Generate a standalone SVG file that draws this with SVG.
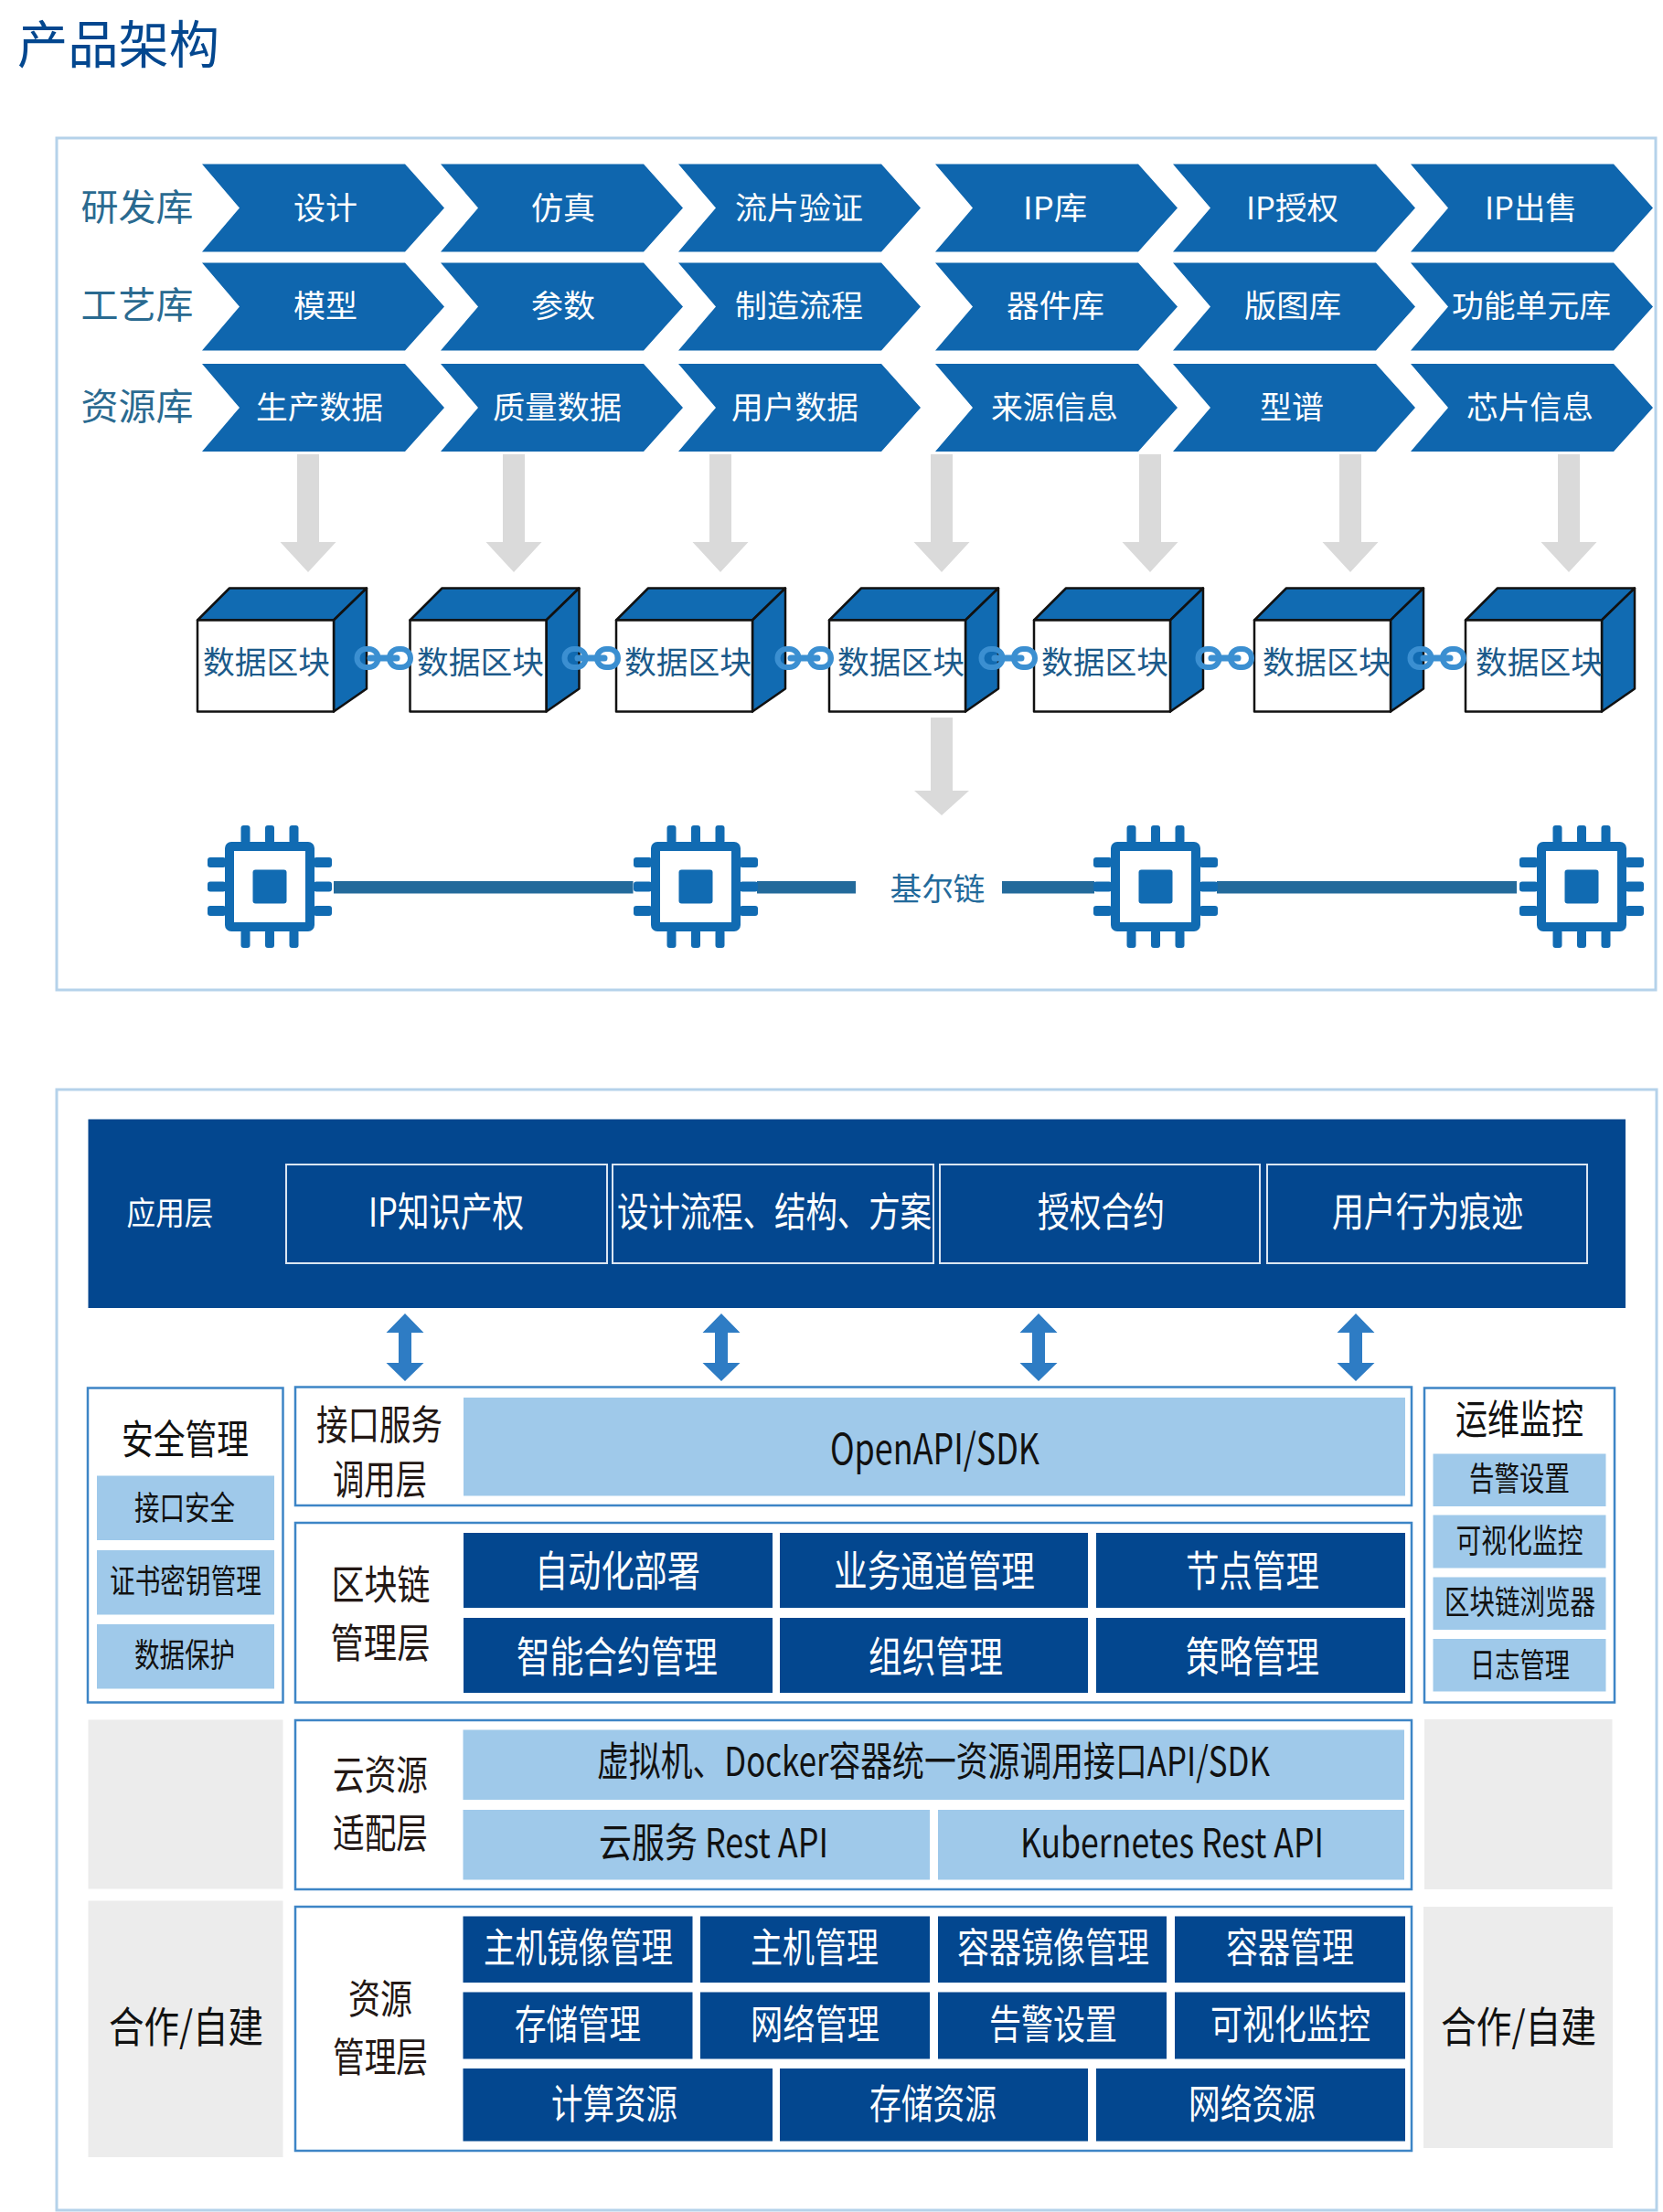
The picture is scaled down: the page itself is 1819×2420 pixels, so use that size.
<svg xmlns="http://www.w3.org/2000/svg" width="1819" height="2420" viewBox="0 0 1819 2420">
<style>
text{font-family:"Noto Sans CJK SC","Noto Sans",sans-serif;font-weight:400}
.w{fill:#fff}.k{fill:#111}.kb{fill:#231815}.d{fill:#03478f}.lb{fill:#9fc9ea}.gy{fill:#ececec}
.fr{fill:#fff;stroke:#3d85c6;stroke-width:2.5}
.ol{fill:none;stroke:#b5d2ea;stroke-width:3}
.bx{fill:none;stroke:#dbe6f2;stroke-width:2}
.t{fill:#2a6a90}.c{fill:#1c5a8a}
.ln{fill:#236a9b}
.s34{font-size:34px}.s36{font-size:36px}.s40{font-size:40px}.s44{font-size:44px}.s46{font-size:46px}.s35{font-size:35px}.s56{font-size:56px}
</style>
<defs>
<path id="chev" d="M0 0H222L265 48L222 96H0L41 48Z" fill="#0f66ae"/>
<path id="gar" d="M-12 -129H12V-33H30.500L0 0L-30.500 -33H-12Z" fill="#dadada"/>
<path id="dar" d="M0 -37L20.500 -16H7V17H20.500L0 37L-20.500 17H-7V-16H-20.500Z" fill="#2e7cc4"/>
<g id="cube" stroke="#111" stroke-width="2.500" stroke-linejoin="round">
<path d="M0 0L35 -35H185L149 0Z" fill="#116bb2"/>
<path d="M149 0L185 -35V75L149 100Z" fill="#116bb2"/>
<rect width="149" height="100" fill="#fff"/>
</g>
<g id="chain" fill="none" stroke="#3b8fd1" stroke-width="6">
<rect x="390.500" y="710" width="23" height="20" rx="10"/>
<rect x="426" y="710" width="23" height="20" rx="10"/>
<path d="M405 720H434" stroke-width="7" stroke-linecap="round"/>
</g>
<g id="chip" fill="#116bb2">
<rect x="-44" y="-44" width="88" height="88" rx="2" fill="none" stroke="#116bb2" stroke-width="10"/>
<rect x="-18.500" y="-18.500" width="37" height="37" rx="3"/>
<rect x="-31.500" y="-67" width="10" height="20" rx="3"/><rect x="-5" y="-67" width="10" height="20" rx="3"/><rect x="21.500" y="-67" width="10" height="20" rx="3"/>
<rect x="-31.500" y="47" width="10" height="20" rx="3"/><rect x="-5" y="47" width="10" height="20" rx="3"/><rect x="21.500" y="47" width="10" height="20" rx="3"/>
<rect x="-68" y="-32" width="20" height="11" rx="3"/><rect x="-68" y="-5.500" width="20" height="11" rx="3"/><rect x="-68" y="21" width="20" height="11" rx="3"/>
<rect x="48" y="-32" width="20" height="11" rx="3"/><rect x="48" y="-5.500" width="20" height="11" rx="3"/><rect x="48" y="21" width="20" height="11" rx="3"/>
</g>
</defs>
<rect width="1819" height="2420" fill="#fff"/>
<text id="title" class="d s56" x="19" y="69" textLength="221" lengthAdjust="spacingAndGlyphs">产品架构</text>
<rect id="frame-top" class="ol" x="62" y="151" width="1749" height="932"/>
<rect id="frame-bottom" class="ol" x="62" y="1192" width="1750" height="1226"/>

<g id="row-labels" class="t s40">
<text x="88.500" y="241" textLength="123" lengthAdjust="spacingAndGlyphs">研发库</text>
<text x="88.500" y="348" textLength="123" lengthAdjust="spacingAndGlyphs">工艺库</text>
<text x="88.500" y="459" textLength="123" lengthAdjust="spacingAndGlyphs">资源库</text>
</g>

<g id="chevrons" class="w s34">
<g id="c11"><use href="#chev" x="221" y="179.500"/><text x="321" y="240" textLength="70" lengthAdjust="spacingAndGlyphs">设计</text></g>
<g id="c12"><use href="#chev" x="482" y="179.500"/><text x="581" y="240" textLength="70" lengthAdjust="spacingAndGlyphs">仿真</text></g>
<g id="c13"><use href="#chev" x="742" y="179.500"/><text x="804" y="240" textLength="140" lengthAdjust="spacingAndGlyphs">流片验证</text></g>
<g id="c14"><use href="#chev" x="1023" y="179.500"/><text x="1119" y="240" textLength="70" lengthAdjust="spacingAndGlyphs">IP库</text></g>
<g id="c15"><use href="#chev" x="1283" y="179.500"/><text x="1363" y="240" textLength="101" lengthAdjust="spacingAndGlyphs">IP授权</text></g>
<g id="c16"><use href="#chev" x="1543" y="179.500"/><text x="1624" y="240" textLength="101" lengthAdjust="spacingAndGlyphs">IP出售</text></g>
<g id="c21"><use href="#chev" x="221" y="287.500"/><text x="321" y="347" textLength="70" lengthAdjust="spacingAndGlyphs">模型</text></g>
<g id="c22"><use href="#chev" x="482" y="287.500"/><text x="581" y="347" textLength="70" lengthAdjust="spacingAndGlyphs">参数</text></g>
<g id="c23"><use href="#chev" x="742" y="287.500"/><text x="804" y="347" textLength="140" lengthAdjust="spacingAndGlyphs">制造流程</text></g>
<g id="c24"><use href="#chev" x="1023" y="287.500"/><text x="1101" y="347" textLength="107" lengthAdjust="spacingAndGlyphs">器件库</text></g>
<g id="c25"><use href="#chev" x="1283" y="287.500"/><text x="1361" y="347" textLength="106" lengthAdjust="spacingAndGlyphs">版图库</text></g>
<g id="c26"><use href="#chev" x="1543" y="287.500"/><text x="1588" y="347" textLength="174" lengthAdjust="spacingAndGlyphs">功能单元库</text></g>
<g id="c31"><use href="#chev" x="221" y="398"/><text x="280" y="458" textLength="139" lengthAdjust="spacingAndGlyphs">生产数据</text></g>
<g id="c32"><use href="#chev" x="482" y="398"/><text x="539" y="458" textLength="141" lengthAdjust="spacingAndGlyphs">质量数据</text></g>
<g id="c33"><use href="#chev" x="742" y="398"/><text x="800" y="458" textLength="139" lengthAdjust="spacingAndGlyphs">用户数据</text></g>
<g id="c34"><use href="#chev" x="1023" y="398"/><text x="1084" y="458" textLength="139" lengthAdjust="spacingAndGlyphs">来源信息</text></g>
<g id="c35"><use href="#chev" x="1283" y="398"/><text x="1378" y="458" textLength="70" lengthAdjust="spacingAndGlyphs">型谱</text></g>
<g id="c36"><use href="#chev" x="1543" y="398"/><text x="1604" y="458" textLength="139" lengthAdjust="spacingAndGlyphs">芯片信息</text></g>
</g>

<g id="connectors">
<use href="#gar" x="337" y="626"/>
<use href="#gar" x="562" y="626"/>
<use href="#gar" x="788" y="626"/>
<use href="#gar" x="1030" y="626"/>
<use href="#gar" x="1258" y="626"/>
<use href="#gar" x="1477" y="626"/>
<use href="#gar" x="1716" y="626"/>
<path d="M1018 785H1042V865H1060L1030 892L1000 865H1018Z" fill="#dadada"/>
<rect class="ln" x="365" y="964" width="327.500" height="13.500"/>
<rect class="ln" x="828" y="964" width="108" height="13.500"/>
<rect class="ln" x="1096" y="964" width="101" height="13.500"/>
<rect class="ln" x="1331" y="964" width="328" height="13.500"/>
<use href="#dar" x="443" y="1474"/>
<use href="#dar" x="789" y="1474"/>
<use href="#dar" x="1136" y="1474"/>
<use href="#dar" x="1483" y="1474"/>
</g>

<g id="block1"><use href="#cube" x="216" y="678.500"/><text class="c s34" x="222" y="737" textLength="139" lengthAdjust="spacingAndGlyphs">数据区块</text></g>
<g id="block2"><use href="#cube" x="448.500" y="678.500"/><text class="c s34" x="456" y="737" textLength="139" lengthAdjust="spacingAndGlyphs">数据区块</text></g>
<g id="block3"><use href="#cube" x="674" y="678.500"/><text class="c s34" x="683" y="737" textLength="139" lengthAdjust="spacingAndGlyphs">数据区块</text></g>
<g id="block4"><use href="#cube" x="907" y="678.500"/><text class="c s34" x="916" y="737" textLength="139" lengthAdjust="spacingAndGlyphs">数据区块</text></g>
<g id="block5"><use href="#cube" x="1131" y="678.500"/><text class="c s34" x="1139" y="737" textLength="139" lengthAdjust="spacingAndGlyphs">数据区块</text></g>
<g id="block6"><use href="#cube" x="1372" y="678.500"/><text class="c s34" x="1381" y="737" textLength="140" lengthAdjust="spacingAndGlyphs">数据区块</text></g>
<g id="block7"><use href="#cube" x="1603" y="678.500"/><text class="c s34" x="1614" y="737" textLength="139" lengthAdjust="spacingAndGlyphs">数据区块</text></g>
<g id="chains">
<use href="#chain"/><use href="#chain" x="227"/><use href="#chain" x="460"/><use href="#chain" x="683"/><use href="#chain" x="920"/><use href="#chain" x="1152"/>
</g>

<g id="chip1"><use href="#chip" x="295" y="970"/></g>
<g id="chip2"><use href="#chip" x="761" y="970"/></g>
<g id="chip3"><use href="#chip" x="1264" y="970"/></g>
<g id="chip4"><use href="#chip" x="1730" y="970"/></g>
<text id="kerchain" class="ln s34" x="973.500" y="985" textLength="104" lengthAdjust="spacingAndGlyphs">基尔链</text>

<g id="app-layer">
<rect class="d" x="96.500" y="1224.500" width="1681.500" height="206.500"/>
<text class="w s35" x="138.500" y="1340" textLength="95" lengthAdjust="spacingAndGlyphs">应用层</text>
<rect class="bx" x="313" y="1274" width="351" height="108"/>
<rect class="bx" x="670" y="1274" width="351" height="108"/>
<rect class="bx" x="1028" y="1274" width="350" height="108"/>
<rect class="bx" x="1386" y="1274" width="350" height="108"/>
<g class="w s44">
<text x="403" y="1342" textLength="170" lengthAdjust="spacingAndGlyphs">IP知识产权</text>
<text x="675" y="1342" textLength="344" lengthAdjust="spacingAndGlyphs">设计流程、结构、方案</text>
<text x="1135" y="1342" textLength="139" lengthAdjust="spacingAndGlyphs">授权合约</text>
<text x="1457" y="1342" textLength="209" lengthAdjust="spacingAndGlyphs">用户行为痕迹</text>
</g>
</g>

<g id="security">
<rect class="fr" x="96" y="1518.500" width="213.500" height="344"/>
<text class="k s44" x="133" y="1591" textLength="139" lengthAdjust="spacingAndGlyphs">安全管理</text>
<rect class="lb" x="106" y="1614.500" width="194" height="70.500"/>
<rect class="lb" x="106" y="1696" width="194" height="70.500"/>
<rect class="lb" x="106" y="1777" width="194" height="70.500"/>
<g class="k s36">
<text x="147" y="1663" textLength="110" lengthAdjust="spacingAndGlyphs">接口安全</text>
<text x="120" y="1743" textLength="166" lengthAdjust="spacingAndGlyphs">证书密钥管理</text>
<text x="147" y="1824" textLength="110" lengthAdjust="spacingAndGlyphs">数据保护</text>
</g>
</g>

<g id="api-layer">
<rect class="fr" x="323" y="1517.500" width="1221" height="129.500"/>
<g class="kb s44">
<text x="346" y="1575" textLength="138" lengthAdjust="spacingAndGlyphs">接口服务</text>
<text x="364" y="1635" textLength="103" lengthAdjust="spacingAndGlyphs">调用层</text>
</g>
<rect class="lb" x="507" y="1529" width="1030" height="107.500"/>
<text class="k s46" x="908" y="1602" textLength="229" lengthAdjust="spacingAndGlyphs">OpenAPI/SDK</text>
</g>

<g id="chain-layer">
<rect class="fr" x="323" y="1666" width="1221" height="196.500"/>
<g class="kb s44">
<text x="362.500" y="1750" textLength="108" lengthAdjust="spacingAndGlyphs">区块链</text>
<text x="361.500" y="1814" textLength="109" lengthAdjust="spacingAndGlyphs">管理层</text>
</g>
<rect class="d" x="507" y="1677" width="338" height="82"/><rect class="d" x="853" y="1677" width="337" height="82"/><rect class="d" x="1199" y="1677" width="338" height="82"/>
<rect class="d" x="507" y="1770" width="338" height="82"/><rect class="d" x="853" y="1770" width="337" height="82"/><rect class="d" x="1199" y="1770" width="338" height="82"/>
<g class="w s46">
<text x="585" y="1735" textLength="181" lengthAdjust="spacingAndGlyphs">自动化部署</text>
<text x="912" y="1735" textLength="220" lengthAdjust="spacingAndGlyphs">业务通道管理</text>
<text x="1297" y="1735" textLength="146" lengthAdjust="spacingAndGlyphs">节点管理</text>
<text x="565" y="1829" textLength="220" lengthAdjust="spacingAndGlyphs">智能合约管理</text>
<text x="950" y="1829" textLength="147" lengthAdjust="spacingAndGlyphs">组织管理</text>
<text x="1297" y="1829" textLength="146" lengthAdjust="spacingAndGlyphs">策略管理</text>
</g>
</g>

<g id="ops">
<rect class="fr" x="1558" y="1518.500" width="208" height="344"/>
<text class="k s44" x="1592" y="1569" textLength="140" lengthAdjust="spacingAndGlyphs">运维监控</text>
<rect class="lb" x="1567.500" y="1590.500" width="189" height="57.500"/>
<rect class="lb" x="1567.500" y="1657.500" width="189" height="58"/>
<rect class="lb" x="1567.500" y="1725.500" width="189" height="57.500"/>
<rect class="lb" x="1567.500" y="1793" width="189" height="57.500"/>
<g class="k s36">
<text x="1607" y="1631" textLength="110" lengthAdjust="spacingAndGlyphs">告警设置</text>
<text x="1592.500" y="1699" textLength="139" lengthAdjust="spacingAndGlyphs">可视化监控</text>
<text x="1580" y="1766" textLength="165" lengthAdjust="spacingAndGlyphs">区块链浏览器</text>
<text x="1608" y="1835" textLength="109" lengthAdjust="spacingAndGlyphs">日志管理</text>
</g>
</g>

<g id="gray-panels">
<rect class="gy" x="96.500" y="1881.500" width="213" height="185"/>
<rect class="gy" x="96.500" y="2079.500" width="213" height="280.500"/>
<rect class="gy" x="1558" y="1881" width="205.500" height="186"/>
<rect class="gy" x="1557" y="2086" width="207" height="264"/>
<text class="k s46" x="119" y="2234" textLength="169" lengthAdjust="spacingAndGlyphs">合作/自建</text>
<text class="k s46" x="1576" y="2234" textLength="170" lengthAdjust="spacingAndGlyphs">合作/自建</text>
</g>

<g id="cloud-layer">
<rect class="fr" x="323" y="1882" width="1221" height="185"/>
<g class="kb s44">
<text x="364" y="1958" textLength="104" lengthAdjust="spacingAndGlyphs">云资源</text>
<text x="364" y="2022" textLength="104" lengthAdjust="spacingAndGlyphs">适配层</text>
</g>
<rect class="lb" x="506.500" y="1892.500" width="1029.500" height="76.500"/>
<rect class="lb" x="506.500" y="1980" width="510.500" height="76.500"/>
<rect class="lb" x="1026" y="1980" width="510" height="76.500"/>
<g class="k s44">
<text x="653" y="1943" textLength="736" lengthAdjust="spacingAndGlyphs">虚拟机、Docker容器统一资源调用接口API/SDK</text>
<text x="655" y="2032" textLength="251" lengthAdjust="spacingAndGlyphs">云服务 Rest API</text>
<text x="1116" y="2032" textLength="332" lengthAdjust="spacingAndGlyphs">Kubernetes Rest API</text>
</g>
</g>

<g id="resource-layer">
<rect class="fr" x="323" y="2086" width="1221" height="267"/>
<g class="kb s44">
<text x="381" y="2203" textLength="70" lengthAdjust="spacingAndGlyphs">资源</text>
<text x="364" y="2267" textLength="104" lengthAdjust="spacingAndGlyphs">管理层</text>
</g>
<rect class="d" x="506.500" y="2096.500" width="251" height="72.500"/><rect class="d" x="766" y="2096.500" width="251" height="72.500"/><rect class="d" x="1026" y="2096.500" width="250" height="72.500"/><rect class="d" x="1285" y="2096.500" width="252" height="72.500"/>
<rect class="d" x="506.500" y="2179.500" width="251" height="73"/><rect class="d" x="766" y="2179.500" width="251" height="73"/><rect class="d" x="1026" y="2179.500" width="250" height="73"/><rect class="d" x="1285" y="2179.500" width="252" height="73"/>
<rect class="d" x="506.500" y="2263" width="338.500" height="79.500"/><rect class="d" x="853" y="2263" width="337" height="79.500"/><rect class="d" x="1199" y="2263" width="338" height="79.500"/>
<g class="w s44">
<text x="529" y="2147" textLength="207" lengthAdjust="spacingAndGlyphs">主机镜像管理</text>
<text x="821" y="2147" textLength="140" lengthAdjust="spacingAndGlyphs">主机管理</text>
<text x="1047" y="2147" textLength="210" lengthAdjust="spacingAndGlyphs">容器镜像管理</text>
<text x="1341" y="2147" textLength="140" lengthAdjust="spacingAndGlyphs">容器管理</text>
<text x="563" y="2231" textLength="138" lengthAdjust="spacingAndGlyphs">存储管理</text>
<text x="821" y="2231" textLength="141" lengthAdjust="spacingAndGlyphs">网络管理</text>
<text x="1082" y="2231" textLength="140" lengthAdjust="spacingAndGlyphs">告警设置</text>
<text x="1324" y="2231" textLength="175" lengthAdjust="spacingAndGlyphs">可视化监控</text>
<text x="603" y="2318" textLength="138" lengthAdjust="spacingAndGlyphs">计算资源</text>
<text x="951" y="2318" textLength="139" lengthAdjust="spacingAndGlyphs">存储资源</text>
<text x="1300" y="2318" textLength="139" lengthAdjust="spacingAndGlyphs">网络资源</text>
</g>
</g>
</svg>
